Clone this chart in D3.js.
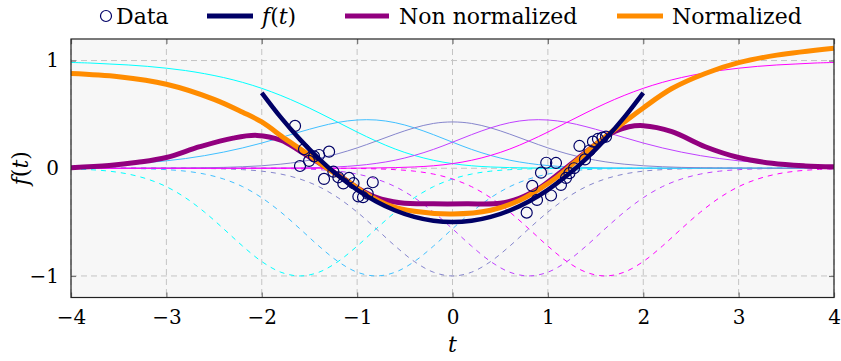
<!DOCTYPE html>
<html><head><meta charset="utf-8">
<script src="https://cdn.jsdelivr.net/npm/d3@7"></script>
<style>body{margin:0;background:#fff} svg text{font-family:"DejaVu Serif",serif;fill:#000}</style>
</head><body><svg id="c" width="841" height="361"></svg>
<script>
// ---------- data ----------
const xTicks = [-4,-3,-2,-1,0,1,2,3,4];
const xTickLabels = ["\u22124","\u22123","\u22122","\u22121","0","1","2","3","4"];
const yTicks = [-1,0,1];
const yTickLabels = ["\u22121","0","1"];

const tBasis = [-4,-3.8,-3.6,-3.4,-3.2,-3,-2.8,-2.6,-2.4,-2.2,-2,-1.8,-1.6,-1.4,-1.2,-1,-0.8,-0.6,-0.4,-0.2,0,
  0.2,0.4,0.6,0.8,1,1.2,1.4,1.6,1.8,2,2.2,2.4,2.6,2.8,3,3.2,3.4,3.6,3.8,4];

// normalized basis functions (thin solid)
const norm1 = [0.982,0.977,0.968,0.959,0.946,0.929,0.907,0.878,0.842,0.797,0.742,0.676,0.600,0.515,0.426,0.336,0.252,0.178,0.119,0.074,0.043,
  0.023,0.012,0.006,0.003,0.001,0,0,0,0,0,0,0,0,0,0,0,0,0,0,0];
const norm2 = [0.018,0.023,0.032,0.041,0.053,0.069,0.090,0.117,0.150,0.189,0.234,0.285,0.337,0.386,0.426,0.448,0.448,0.423,0.375,0.312,0.242,
  0.175,0.119,0.075,0.045,0.025,0.013,0.007,0.003,0.002,0.001,0,0,0,0,0,0,0,0,0,0];
const norm3 = [0,0,0,0,0.001,0.002,0.003,0.005,0.008,0.014,0.023,0.038,0.060,0.092,0.135,0.189,0.252,0.317,0.375,0.416,0.430,
  0.416,0.375,0.317,0.252,0.189,0.135,0.092,0.060,0.038,0.023,0.014,0.008,0.005,0.003,0.002,0.001,0,0,0,0];
const norm4 = [0,0,0,0,0,0,0,0,0,0,0.001,0.002,0.003,0.007,0.013,0.025,0.045,0.075,0.119,0.175,0.242,
  0.312,0.375,0.423,0.448,0.448,0.426,0.386,0.337,0.285,0.234,0.189,0.150,0.117,0.090,0.069,0.053,0.041,0.032,0.023,0.018];
const norm5 = [0,0,0,0,0,0,0,0,0,0,0,0,0,0,0,0.001,0.003,0.006,0.012,0.023,0.043,
  0.074,0.119,0.178,0.252,0.336,0.426,0.515,0.600,0.676,0.742,0.797,0.842,0.878,0.907,0.929,0.946,0.959,0.968,0.977,0.982];

// (negated) gaussian basis functions (thin dashed)
const gauss1 = [-0.006,-0.013,-0.027,-0.054,-0.100,-0.171,-0.274,-0.407,-0.562,-0.723,-0.866,-0.965,-1,-0.965,-0.866,-0.723,-0.562,-0.407,-0.274,-0.171,-0.100,
  -0.054,-0.027,-0.013,-0.006,-0.002,-0.001,0,0,0,0,0,0,0,0,0,0,0,0,0,0];
const gauss2 = [0,0,-0.001,-0.002,-0.006,-0.013,-0.027,-0.054,-0.100,-0.171,-0.274,-0.407,-0.562,-0.723,-0.866,-0.965,-1,-0.965,-0.866,-0.723,-0.562,
  -0.407,-0.274,-0.171,-0.100,-0.054,-0.027,-0.013,-0.006,-0.002,-0.001,0,0,0,0,0,0,0,0,0,0];
const gauss3 = [0,0,0,0,0,0,-0.001,-0.002,-0.006,-0.013,-0.027,-0.054,-0.100,-0.171,-0.274,-0.407,-0.562,-0.723,-0.866,-0.965,-1,
  -0.965,-0.866,-0.723,-0.562,-0.407,-0.274,-0.171,-0.100,-0.054,-0.027,-0.013,-0.006,-0.002,-0.001,0,0,0,0,0,0];
const gauss4 = [0,0,0,0,0,0,0,0,0,0,-0.001,-0.002,-0.006,-0.013,-0.027,-0.054,-0.100,-0.171,-0.274,-0.407,-0.562,
  -0.723,-0.866,-0.965,-1,-0.965,-0.866,-0.723,-0.562,-0.407,-0.274,-0.171,-0.100,-0.054,-0.027,-0.013,-0.006,-0.002,-0.001,0,0];
const gauss5 = [0,0,0,0,0,0,0,0,0,0,0,0,0,0,-0.001,-0.002,-0.006,-0.013,-0.027,-0.054,-0.100,
  -0.171,-0.274,-0.407,-0.562,-0.723,-0.866,-0.965,-1,-0.965,-0.866,-0.723,-0.562,-0.407,-0.274,-0.171,-0.100,-0.054,-0.027,-0.013,-0.006];

const basisColors = ["#00ffff","#40bfff","#8585cc","#bf40ff","#ff00ff"];

// true function f(t)
const fT = [-2,-1.8,-1.6,-1.4,-1.2,-1,-0.8,-0.6,-0.4,-0.2,0,0.2,0.4,0.6,0.8,1,1.2,1.4,1.6,1.8,2];
const fV = [0.70,0.472,0.268,0.088,-0.068,-0.2,-0.308,-0.392,-0.452,-0.488,-0.5,-0.488,-0.452,-0.392,-0.308,-0.2,-0.068,0.088,0.268,0.472,0.70];

// non normalized fit
const nonT = [-4,-3.6,-3.3,-3,-2.65,-2.3,-2.05,-1.8,-1.6,-1.4,-1.2,-1,-0.8,-0.55,-0.2,0.15,0.5,0.7,0.9,1.1,1.3,1.5,1.7,1.85,2,2.3,2.65,3,3.35,3.7,4];
const nonV = [0.005,0.025,0.055,0.10,0.20,0.28,0.305,0.26,0.16,0.05,-0.06,-0.18,-0.27,-0.32,-0.33,-0.33,-0.325,-0.28,-0.19,-0.06,0.08,0.22,0.34,0.385,0.395,0.34,0.20,0.10,0.046,0.022,0.013];

// normalized fit
const normT = [-4,-3.5,-3,-2.5,-2.2,-2,-1.75,-1.5,-1.3,-1.1,-0.9,-0.65,-0.4,0,0.4,0.7,0.9,1.1,1.3,1.5,1.7,2,2.3,2.65,3,3.4,4];
const normV = [0.88,0.85,0.78,0.64,0.52,0.43,0.27,0.12,-0.01,-0.12,-0.24,-0.35,-0.40,-0.425,-0.39,-0.30,-0.20,-0.08,0.07,0.22,0.36,0.56,0.74,0.88,0.98,1.05,1.115];

// data points
const dataT = [-1.651,-1.599,-1.557,-1.504,-1.452,-1.399,-1.294,-1.347,-1.249,-1.197,-1.145,-1.085,-1.038,-0.836,-0.987,-0.938,-0.889,
  0.778,0.836,0.886,0.928,0.983,1.085,1.033,1.137,1.190,1.226,1.274,1.331,1.389,1.436,1.473,1.525,1.572,1.609];
const dataV = [0.393,0.021,0.176,0.068,0.110,0.123,0.154,-0.099,-0.032,-0.084,-0.141,-0.090,-0.139,-0.130,-0.262,-0.269,-0.236,
  -0.412,-0.164,-0.294,-0.041,0.051,0.049,-0.253,-0.155,-0.090,-0.046,0.000,0.207,0.082,0.165,0.247,0.272,0.284,0.293];

const legendLabels = ["Data","f(t)","Non normalized","Normalized"];

// ---------- drawing ----------
const svg = d3.select("#c");
const L = 71, R = 834, T = 39, B = 297.5;
const x = d3.scaleLinear().domain([-4,4]).range([L,R]);
const y = d3.scaleLinear().domain([-1.2,1.2]).range([B,T]);

svg.append("rect").attr("x",L).attr("y",T).attr("width",R-L).attr("height",B-T).attr("fill","#f7f7f7");

const clip = svg.append("clipPath").attr("id","pc").append("rect").attr("x",L).attr("y",T).attr("width",R-L).attr("height",B-T);

// grid
const grid = svg.append("g");
grid.selectAll(".gx").data(xTicks).join("line")
  .attr("x1",d=>x(d)).attr("x2",d=>x(d)).attr("y1",T).attr("y2",B)
  .attr("stroke","#c4c4c4").attr("stroke-width",1).attr("stroke-dasharray","6,4");
grid.selectAll(".gy").data(yTicks).join("line")
  .attr("y1",d=>y(d)).attr("y2",d=>y(d)).attr("x1",L).attr("x2",R)
  .attr("stroke","#c4c4c4").attr("stroke-width",1).attr("stroke-dasharray","6,4");

// axes via d3 (ticks inside, mirrored)
const tickLen = 5;
const axB = svg.append("g").attr("transform",`translate(0,${B})`)
  .call(d3.axisBottom(x).tickValues(xTicks).tickSize(-tickLen).tickFormat((d,i)=>xTickLabels[i]).tickPadding(12));
const axT = svg.append("g").attr("transform",`translate(0,${T})`)
  .call(d3.axisTop(x).tickValues(xTicks).tickSize(-tickLen).tickFormat(""));
const axL = svg.append("g").attr("transform",`translate(${L},0)`)
  .call(d3.axisLeft(y).tickValues(yTicks).tickSize(-tickLen).tickFormat((d,i)=>yTickLabels[i]).tickPadding(12));
const axR = svg.append("g").attr("transform",`translate(${R},0)`)
  .call(d3.axisRight(y).tickValues(yTicks).tickSize(-tickLen).tickFormat(""));
[axB,axT,axL,axR].forEach(a=>{
  a.select(".domain").remove();
  a.selectAll(".tick line").attr("stroke","#777").attr("stroke-width",1.2);
  a.selectAll("text").attr("font-family","DejaVu Serif").attr("font-size",20).attr("fill","#000");
});

const plot = svg.append("g").attr("clip-path","url(#pc)");
const lineB = d3.line().x((d,i)=>x(tBasis[i])).y(d=>y(d)).curve(d3.curveCatmullRom);

const gaussSets = [gauss1,gauss2,gauss3,gauss4,gauss5];
const normSets = [norm1,norm2,norm3,norm4,norm5];
gaussSets.forEach((s,k)=>{
  plot.append("path").attr("d",lineB(s)).attr("fill","none")
    .attr("stroke",basisColors[k]).attr("stroke-width",1).attr("stroke-dasharray","5,5");
});
normSets.forEach((s,k)=>{
  plot.append("path").attr("d",lineB(s)).attr("fill","none")
    .attr("stroke",basisColors[k]).attr("stroke-width",1);
});

const lineXY = (ts)=>d3.line().x((d,i)=>x(ts[i])).y(d=>y(d)).curve(d3.curveCatmullRom);
plot.append("path").attr("d",lineXY(nonT)(nonV)).attr("fill","none").attr("stroke","#92007f").attr("stroke-width",5);
plot.append("path").attr("d",lineXY(normT)(normV)).attr("fill","none").attr("stroke","#ff8c00").attr("stroke-width",5);
plot.append("path").attr("d",lineXY(fT)(fV)).attr("fill","none").attr("stroke","#000066").attr("stroke-width",4.5);

plot.selectAll(".pt").data(dataT).join("circle")
  .attr("cx",d=>x(d)).attr("cy",(d,i)=>y(dataV[i])).attr("r",5.5)
  .attr("fill","none").attr("stroke","#000066").attr("stroke-width",1.2);

// frame
svg.append("rect").attr("x",L).attr("y",T).attr("width",R-L).attr("height",B-T)
  .attr("fill","none").attr("stroke","#222").attr("stroke-width",1.2);

// axis labels
svg.append("text").attr("x",(L+R)/2).attr("y",352).attr("text-anchor","middle")
  .attr("font-size",22).attr("font-style","italic").text("t");
const yl = svg.append("text").attr("transform",`translate(28,${y(0)}) rotate(-90)`).attr("text-anchor","middle").attr("font-size",22);
yl.append("tspan").attr("font-style","italic").text("f");
yl.append("tspan").text("(");
yl.append("tspan").attr("font-style","italic").text("t");
yl.append("tspan").text(")");

// legend
const lg = svg.append("g").attr("font-size",22);
lg.append("circle").attr("cx",106).attr("cy",16).attr("r",5.5).attr("fill","none").attr("stroke","#000066").attr("stroke-width",1.2);
lg.append("text").attr("x",116).attr("y",24).text(legendLabels[0]);
lg.append("line").attr("x1",207).attr("x2",253).attr("y1",16).attr("y2",16).attr("stroke","#000066").attr("stroke-width",5);
const ft = lg.append("text").attr("x",262).attr("y",24);
ft.append("tspan").attr("font-style","italic").text("f");
ft.append("tspan").text("(");
ft.append("tspan").attr("font-style","italic").text("t");
ft.append("tspan").text(")");
lg.append("line").attr("x1",345).attr("x2",389).attr("y1",16).attr("y2",16).attr("stroke","#92007f").attr("stroke-width",5);
lg.append("text").attr("x",399).attr("y",24).text(legendLabels[2]);
lg.append("line").attr("x1",617).attr("x2",663).attr("y1",16).attr("y2",16).attr("stroke","#ff8c00").attr("stroke-width",5);
lg.append("text").attr("x",672).attr("y",24).text(legendLabels[3]);
</script></body></html>
